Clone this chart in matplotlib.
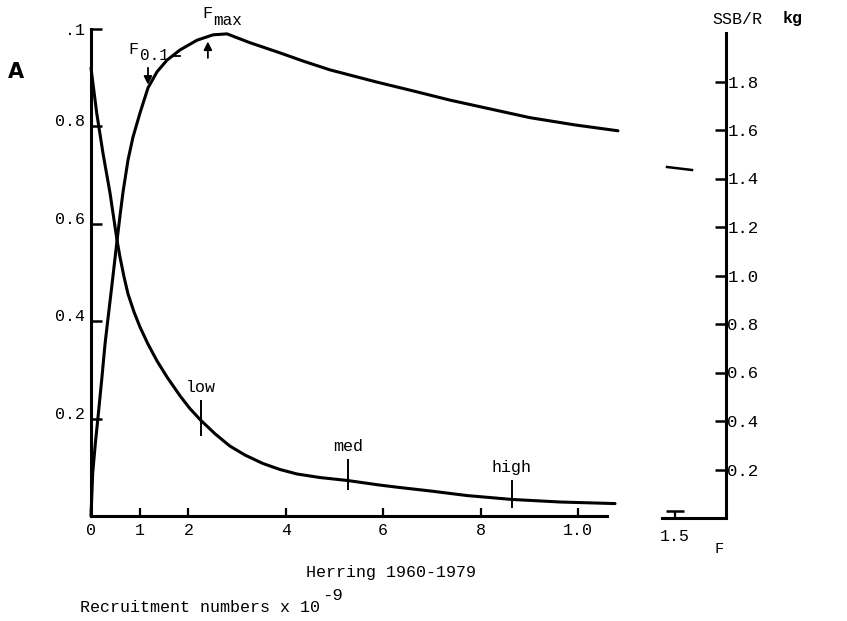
import matplotlib
matplotlib.use("Agg")
import matplotlib.pyplot as plt
from matplotlib.lines import Line2D

plt.rcParams['font.family'] = ['Liberation Mono', 'DejaVu Sans']

# fishing mortality F and yield per recruit (left axis)
f_yield = [0.0, 0.0035, 0.009, 0.0144, 0.022, 0.029, 0.036, 0.0425, 0.0534, 0.0595,
           0.0657, 0.076, 0.0862, 0.1006, 0.117, 0.1355, 0.156, 0.1828, 0.2177, 0.2505,
           0.2793, 0.326, 0.388, 0.439, 0.491, 0.587, 0.665, 0.737, 0.819, 0.901,
           0.994, 1.082]
yield_r = [0.0, 0.088, 0.15, 0.203, 0.28, 0.355, 0.415, 0.47, 0.565, 0.616,
           0.665, 0.731, 0.778, 0.8275, 0.879, 0.912, 0.936, 0.957, 0.977, 0.988,
           0.99, 0.972, 0.951, 0.933, 0.916, 0.891, 0.872, 0.854, 0.836, 0.818,
           0.803, 0.791]

# spawning stock biomass per recruit, kg (right axis)
f_ssb = [0.0, 0.0117, 0.0246, 0.039, 0.0534, 0.0595, 0.0678, 0.076, 0.0883, 0.1006,
         0.117, 0.1355, 0.156, 0.183, 0.203, 0.224, 0.255, 0.285, 0.316, 0.353,
         0.388, 0.423, 0.47, 0.526, 0.593, 0.634, 0.696, 0.772, 0.864, 0.963, 1.076]
ssb_r = [1.84, 1.655, 1.49, 1.327, 1.133, 1.064, 0.982, 0.912, 0.838, 0.776,
         0.706, 0.637, 0.571, 0.493, 0.4415, 0.396, 0.337, 0.2875, 0.2505, 0.2156,
         0.191, 0.1725, 0.158, 0.146, 0.127, 0.117, 0.103, 0.084, 0.068, 0.0575, 0.051]

# recruitment level markers
rec_names = ["low", "med", "high"]
rec_f = [0.225, 0.528, 0.864]
rec_lo = [0.164, 0.053, 0.016]
rec_hi = [0.238, 0.117, 0.074]

x_ticks = [0, 0.1, 0.2, 0.4, 0.6, 0.8, 1.0]
x_labels = ["0", "1", "2", "4", "6", "8", "1.0"]
y_ticks = [0.2, 0.4, 0.6, 0.8, 1.0]
y_labels = ["0.2", "0.4", "0.6", "0.8", ".1"]
ssb_ticks = [0.2, 0.4, 0.6, 0.8, 1.0, 1.2, 1.4, 1.6, 1.8]
ssb_labels = ["0.2", "0.4", "0.6", "0.8", "1.0", "1.2", "1.4", "1.6", "1.8"]

W, H = 847, 621
fig = plt.figure(figsize=(W / 100, H / 100), dpi=100)

lw = 2.2
ax = fig.add_axes([91 / W, (H - 516) / H, (607 - 91) / W, 487 / H])
ax.set_xlim(0, 516 / 487)
ax.set_ylim(0, 1.0)
for s in ["top", "right"]:
    ax.spines[s].set_visible(False)
ax.spines["left"].set_linewidth(lw)
ax.spines["bottom"].set_linewidth(lw)
ax.set_xticks(x_ticks, x_labels)
ax.set_yticks(y_ticks, y_labels)
ax.tick_params(axis="x", direction="in", length=6, width=1.6, labelsize=12, pad=5)
ax.tick_params(axis="y", direction="in", length=8, width=1.8, labelsize=12, pad=4)
for lab in ax.get_yticklabels()[:-1]:
    lab.set_va("baseline")

ax.plot(f_yield, yield_r, color="black", lw=lw, clip_on=False,
        solid_capstyle="round", solid_joinstyle="round")

ax2 = ax.twinx()
ax2.set_ylim(0, 2.0)
ax2.axis("off")
ax2.plot(f_ssb, ssb_r, color="black", lw=lw, clip_on=False,
         solid_capstyle="round", solid_joinstyle="round")

# recruitment markers
ax.vlines(rec_f, rec_lo, rec_hi, color="black", lw=1.4)
for name, f, hi in zip(rec_names, rec_f, rec_hi):
    ax.text(f, hi + 0.01, name, ha="center", va="bottom", fontsize=12)

# reference points
ax.annotate("", xy=(0.117, 0.880), xytext=(0.117, 0.926),
            arrowprops=dict(arrowstyle="-|>", color="black", lw=1.3, mutation_scale=12))
ax.annotate("", xy=(0.240, 0.980), xytext=(0.240, 0.935),
            arrowprops=dict(arrowstyle="-|>", color="black", lw=1.3, mutation_scale=12))
ax.text(0.088, 0.958, "F", fontsize=12, ha="center", va="center")
ax.text(0.131, 0.946, "0.1", fontsize=11.5, ha="center", va="center")
ax.plot([0.167, 0.183], [0.944, 0.944], color="black", lw=1.3, clip_on=False)
ax.text(0.238, 1.031, "F", fontsize=12, ha="center", va="center", clip_on=False)
ax.text(0.281, 1.018, "max", fontsize=11.5, ha="center", va="center", clip_on=False)

# right hand SSB/R scale
axr = fig.add_axes([662 / W, (H - 518) / H, 64 / W, 485 / H])
axr.set_xlim(1.45, 1.70)
axr.set_ylim(0, 2.0)
axr.patch.set_alpha(0)
for s in ["top", "left"]:
    axr.spines[s].set_visible(False)
axr.spines["right"].set_linewidth(lw)
axr.spines["bottom"].set_linewidth(lw)
axr.yaxis.tick_right()
axr.set_yticks(ssb_ticks, ssb_labels)
axr.tick_params(axis="y", direction="in", length=8, width=1.8, labelsize=12.5, pad=1)
axr.set_xticks([1.5], ["1.5"])
axr.tick_params(axis="x", direction="in", length=5, width=1.6, labelsize=12, pad=8)
axr.plot([1.5], [0.03], marker="_", markersize=13, mew=1.8, color="black")

fig.text(737 / W, 1 - 19 / H, "SSB/R", fontsize=12, ha="center", va="center")
fig.text(793 / W, 1 - 19 / H, "kg", fontsize=12, ha="center", va="center", fontweight="bold")
fig.text(719 / W, 1 - 549 / H, "F", fontsize=11, ha="center", va="center")
fig.add_artist(Line2D([667 / W, 692 / W], [1 - 167 / H, 1 - 170 / H], color="black", lw=1.8))

fig.text(16 / W, 1 - 72 / H, "A", fontsize=15, ha="center", va="center",
         fontweight="bold", family="DejaVu Sans")
fig.text(391 / W, 1 - 572 / H, "Herring 1960-1979", fontsize=12, ha="center", va="center")
fig.text(80 / W, 1 - 612 / H, "Recruitment numbers x 10", fontsize=12,
         ha="left", va="baseline")
fig.text(322 / W, 1 - 600 / H, "-9", fontsize=12.5, ha="left", va="baseline")

fig.savefig("out.png", dpi=100)
